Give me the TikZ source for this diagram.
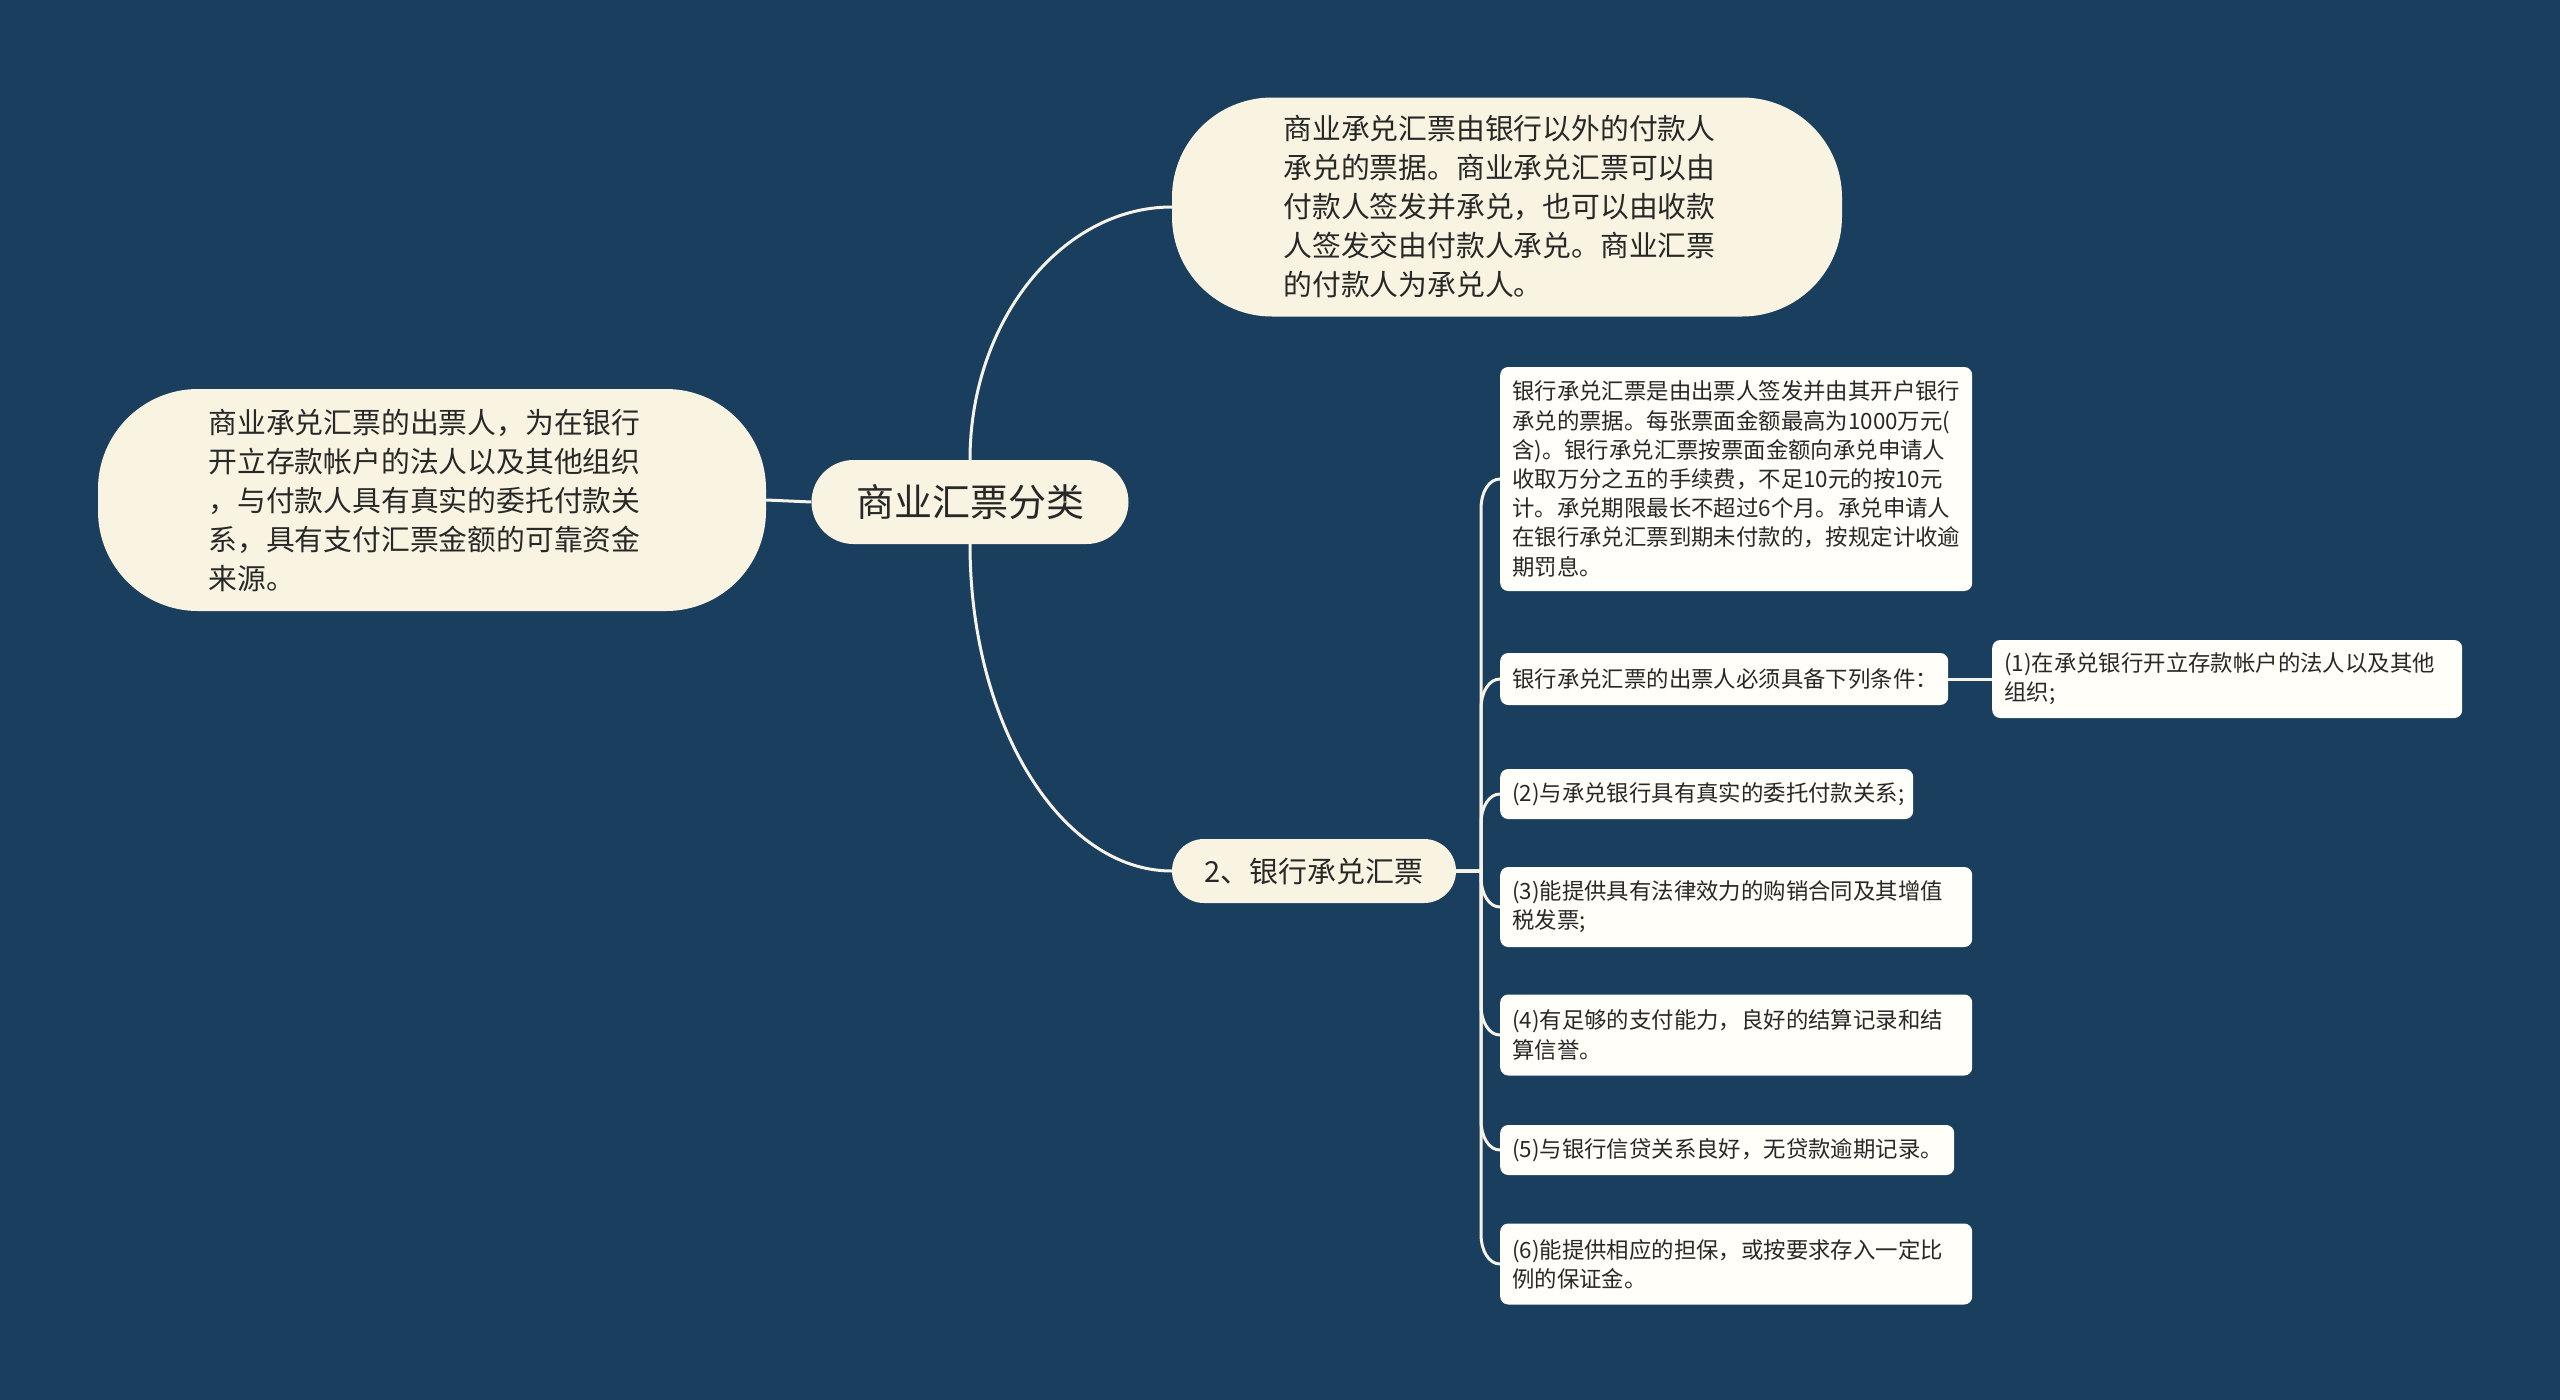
\documentclass[tikz,border=0pt]{standalone}
\usepackage{fontspec}
\newfontfamily\cjk{Noto Sans CJK SC}
\usetikzlibrary{calc}
\definecolor{bg}{RGB}{25,62,94}
\definecolor{cream}{RGB}{249,244,225}
\definecolor{leafc}{RGB}{255,254,248}
\definecolor{linec}{RGB}{246,243,232}
\definecolor{txt}{RGB}{40,40,40}
\begin{document}
\begin{tikzpicture}[x=1pt,y=-1pt,
  conn/.style={draw=linec, line width=3pt},
  mainnode/.style={fill=cream, text=txt, align=left, inner sep=0pt},
  leaf/.style={fill=leafc, text=txt, rounded corners=8pt, anchor=west, align=left,
    inner xsep=12pt, inner ysep=0pt, font={\cjk\fontsize{22.4}{29.2}\selectfont}}
]
\fill[bg] (0,0) rectangle (2560,1400);

% main nodes
\node[mainnode, minimum width=317pt, minimum height=84pt, rounded corners=42pt,
  font={\cjk\fontsize{38}{46}\selectfont}] (c) at (970,502) {商业汇票分类};

\node[mainnode, minimum width=670pt, minimum height=219pt, rounded corners=100pt,
  text width=447pt, font={\cjk\fontsize{28.8}{39}\selectfont}] (top) at (1507,207)
  {商业承兑汇票由银行以外的付款人\\承兑的票据。商业承兑汇票可以由\\付款人签发并承兑，也可以由收款\\人签发交由付款人承兑。商业汇票\\的付款人为承兑人。};

\node[mainnode, minimum width=668pt, minimum height=222pt, rounded corners=100pt,
  text width=447pt, font={\cjk\fontsize{28.8}{39}\selectfont}] (left) at (432,500)
  {商业承兑汇票的出票人，为在银行\\开立存款帐户的法人以及其他组织\\，与付款人具有真实的委托付款关\\系，具有支付汇票金额的可靠资金\\来源。};

\node[mainnode, minimum width=284pt, minimum height=64pt, rounded corners=32pt,
  font={\cjk\fontsize{29}{36}\selectfont}] (n2) at (1314,871) {2、银行承兑汇票};

% leaves
\node[leaf, text width=448pt, minimum height=224pt] (l1) at (1500,479)
  {银行承兑汇票是由出票人签发并由其开户银行\\承兑的票据。每张票面金额最高为1000万元(\\含)。银行承兑汇票按票面金额向承兑申请人\\收取万分之五的手续费，不足10元的按10元\\计。承兑期限最长不超过6个月。承兑申请人\\在银行承兑汇票到期未付款的，按规定计收逾\\期罚息。};
\node[leaf, text width=424pt, minimum height=52pt] (l2) at (1500,679)
  {银行承兑汇票的出票人必须具备下列条件：};
\node[leaf, text width=446pt, minimum height=78pt] (l2a) at (1992,679)
  {(1)在承兑银行开立存款帐户的法人以及其他\\组织;};
\node[leaf, text width=389pt, minimum height=50pt] (l3) at (1500,794)
  {(2)与承兑银行具有真实的委托付款关系;};
\node[leaf, text width=448pt, minimum height=80pt] (l4) at (1500,907)
  {(3)能提供具有法律效力的购销合同及其增值\\税发票;};
\node[leaf, text width=448pt, minimum height=81pt] (l5) at (1500,1035)
  {(4)有足够的支付能力，良好的结算记录和结\\算信誉。};
\node[leaf, text width=430pt, minimum height=50pt] (l6) at (1500,1150)
  {(5)与银行信贷关系良好，无贷款逾期记录。};
\node[leaf, text width=448pt, minimum height=81pt] (l7) at (1500,1264)
  {(6)能提供相应的担保，或按要求存入一定比\\例的保证金。};

% connectors
\draw[conn] (c.north) .. controls +(0,-139) and +(-110,0) .. (top.west);
\draw[conn] (c.south) .. controls +(0,180) and +(-111,0) .. (n2.west);
\draw[conn] (c.west) -- (left.east);
\coordinate (tr) at (1481,871);
\foreach \l in {l1,l2,l3}{
  \draw[conn] (n2.east) -- (tr) -- ($(tr |- \l.west)+(0,30)$)
    .. controls +(0,-17) and +(-11,0) .. (\l.west);
}
\foreach \l in {l4,l5,l6,l7}{
  \draw[conn] (n2.east) -- (tr) -- ($(tr |- \l.west)+(0,-30)$)
    .. controls +(0,17) and +(-11,0) .. (\l.west);
}
\draw[conn] (l2.east) -- (l2a.west);
\end{tikzpicture}
\end{document}
